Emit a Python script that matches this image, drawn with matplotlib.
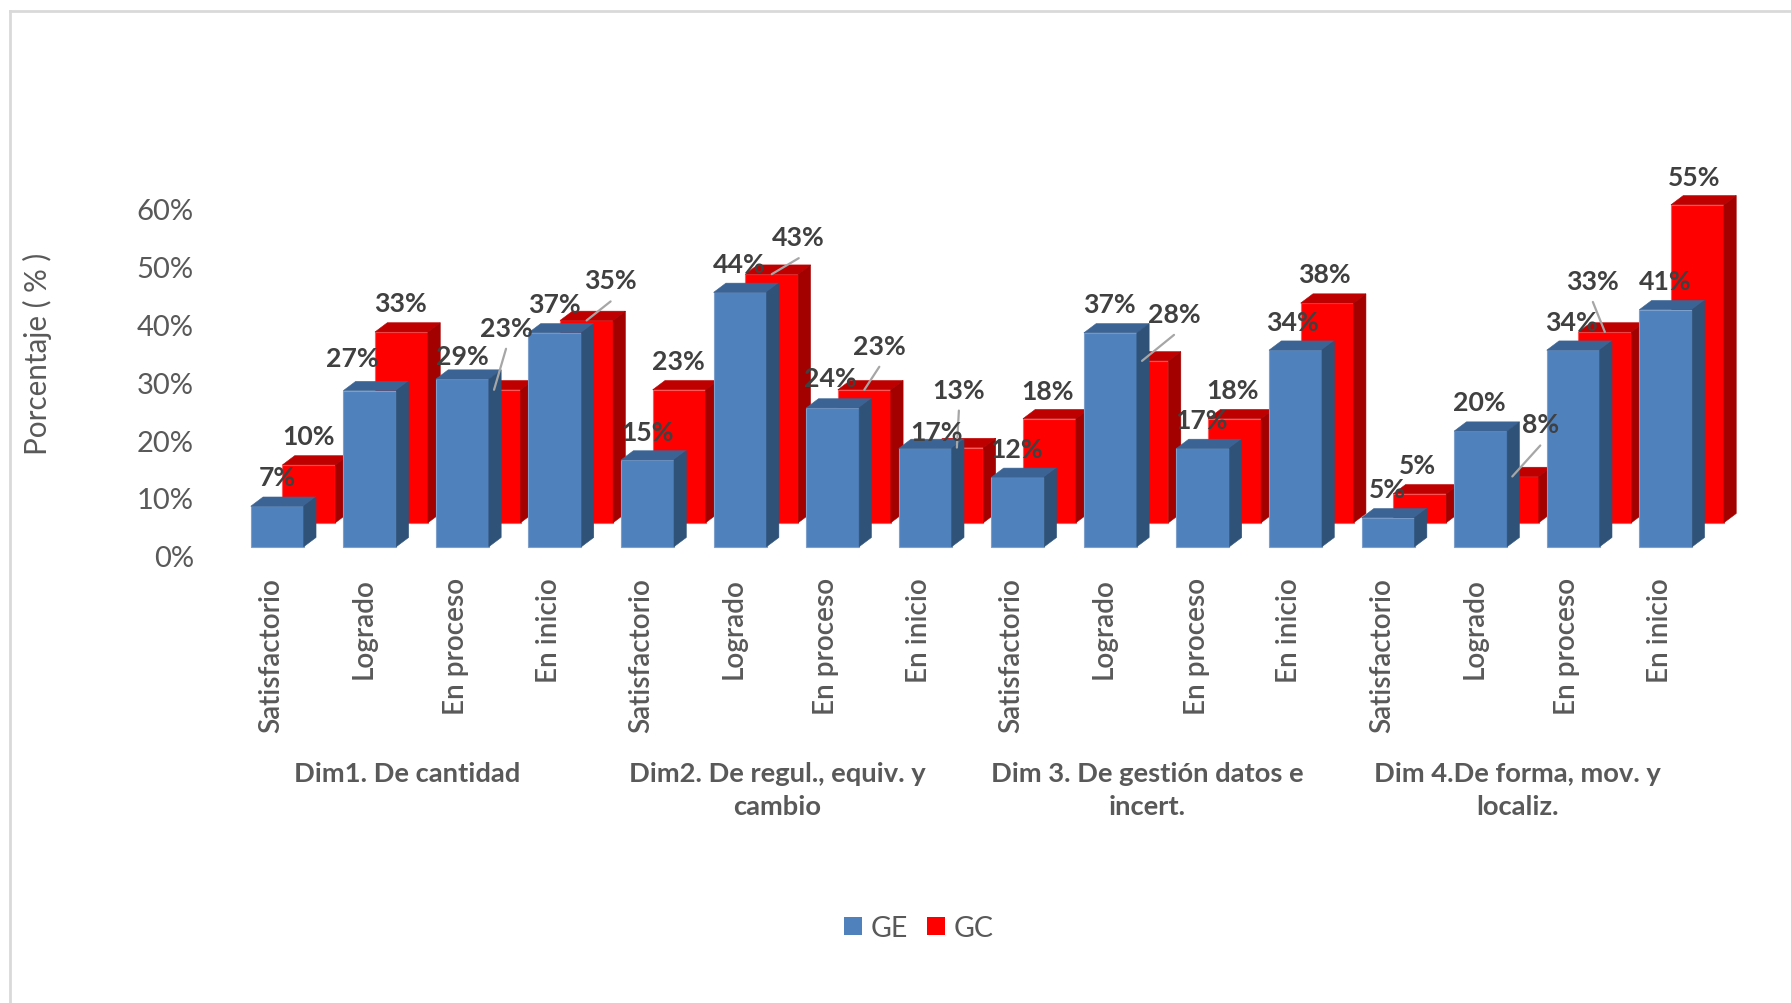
import matplotlib
matplotlib.use("Agg")
import matplotlib.pyplot as plt
from matplotlib.lines import Line2D
from matplotlib.patches import Patch, Polygon
from matplotlib.transforms import ScaledTranslation

plt.rcParams["font.family"] = ["Lato", "DejaVu Sans"]

# Achievement levels repeated for each of the four dimensions
levels = ["Satisfactorio", "Logrado", "En proceso", "En inicio"]
categories = levels * 4
dimensions = [
    "Dim1. De cantidad",
    "Dim2. De regul., equiv. y\ncambio",
    "Dim 3. De gestión datos e\nincert.",
    "Dim 4.De forma, mov. y\nlocaliz.",
]
ge_values = [7, 27, 29, 37, 15, 44, 24, 17, 12, 37, 17, 34, 5, 20, 34, 41]
gc_values = [10, 33, 23, 35, 23, 43, 23, 13, 18, 28, 18, 38, 5, 8, 33, 55]
y_ticks = [0, 10, 20, 30, 40, 50, 60]

# Label offsets from the top-centre of each bar's front face, in pixels (right, up)
ge_label_offsets = [(0, 29), (-17, 33), (0, 23), (-1, 29), (0, 28), (-1, 28), (-2, 30), (11, 16),
                    (-1, 28), (-1, 29), (-1, 28), (-3, 28), (-1, 29), (-1, 29), (-2, 28), (-1, 29)]
gc_label_offsets = [(0, 29), (-1, 29), (12, 62), (24, 40), (-1, 29), (27, 37), (15, 44), (2, 58),
                    (-2, 28), (32, 47), (-2, 29), (-3, 29), (-2, 29), (28, 52), (-12, 51), (-3, 28)]
gc_with_leader = [2, 3, 5, 6, 7, 9, 13, 14]

W, H = 1791, 1004
DPI = 100
fig = plt.figure(figsize=(W / DPI, H / DPI), dpi=DPI, facecolor="white")

# Plot box: category step 92.57 px, 5.78 px per percentage point
left, right, bottom, top = 221.7, 1702.8, 547.7, 200.9
ax = fig.add_axes([left / W, 1 - bottom / H, (right - left) / W, (bottom - top) / H])
ax.set_xlim(-0.5, 15.5)
ax.set_ylim(0, 60)

BAR_W = 0.572
GE_SHIFT = 0.10          # front row, relative to the category tick
GC_SHIFT = 0.442         # back row
GC_FLOOR = 4.15          # back row's floor, lifted by perspective
DEPTH_X = 0.133
DEPTH_Y = 1.6
LABEL_SIZE = 19.2


def draw_series(values, shift, floor, front, top_face, side, edge, z):
    xs = [i + shift for i in range(len(values))]
    ax.bar(xs, values, width=BAR_W, bottom=floor, color=front, edgecolor=edge,
           linewidth=0.8, zorder=z, clip_on=False)
    for x, v in zip(xs, values):
        x0, x1 = x - BAR_W / 2, x + BAR_W / 2
        y0, y1 = floor, floor + v
        ax.add_patch(Polygon(
            [(x0, y1), (x1, y1), (x1 + DEPTH_X, y1 + DEPTH_Y), (x0 + DEPTH_X, y1 + DEPTH_Y)],
            closed=True, facecolor=top_face, edgecolor=top_face, linewidth=0.4, zorder=z, clip_on=False))
        ax.add_patch(Polygon(
            [(x1, y0), (x1 + DEPTH_X, y0 + DEPTH_Y), (x1 + DEPTH_X, y1 + DEPTH_Y), (x1, y1)],
            closed=True, facecolor=side, edgecolor=side, linewidth=0.4, zorder=z, clip_on=False))


draw_series(gc_values, GC_SHIFT, GC_FLOOR, "#FF0000", "#BE0000", "#A30000", "#FF5A5A", 2)
draw_series(ge_values, GE_SHIFT, 0, "#4F81BD", "#3B6494", "#2F5279", "#7C9FCC", 3)


def draw_labels(values, shift, floor, offsets, color="#404040"):
    for i, (v, (dx, dy)) in enumerate(zip(values, offsets)):
        ax.annotate(f"{v}%", xy=(i + shift, floor + v), xytext=(dx, dy),
                    textcoords="offset pixels", ha="center", va="center",
                    fontsize=LABEL_SIZE, fontweight="bold", color=color, zorder=6,
                    annotation_clip=False)


# Leader lines run from just under the moved label down to its bar
for i in gc_with_leader:
    dx, dy = gc_label_offsets[i]
    ax.annotate("", xy=(i + GC_SHIFT, GC_FLOOR + gc_values[i]), xytext=(dx, dy - 21),
                textcoords="offset pixels", annotation_clip=False, zorder=5,
                arrowprops=dict(arrowstyle="-", color="#A6A6A6", lw=1.6,
                                shrinkA=0, shrinkB=0))

draw_labels(gc_values, GC_SHIFT, GC_FLOOR, gc_label_offsets)
draw_labels(ge_values, GE_SHIFT, 0, ge_label_offsets)

# Axes
for spine in ax.spines.values():
    spine.set_visible(False)
ax.patch.set_visible(False)
ax.set_xticks(range(len(categories)))
ax.set_xticklabels(categories, rotation=90, ha="center", va="top", fontsize=20.1,
                   color="#595959", fontweight="semibold")
ax.tick_params(axis="x", length=0, pad=22)
x_nudge = ScaledTranslation(3 / DPI, 0, fig.dpi_scale_trans)
for lab in ax.get_xticklabels():
    lab.set_transform(lab.get_transform() + x_nudge)
ax.set_yticks(y_ticks)
ax.set_yticklabels([f"{t}%" for t in y_ticks], fontsize=21, color="#595959")
ax.tick_params(axis="y", length=0, pad=20)
y_drop = ScaledTranslation(0, -11.5 / DPI, fig.dpi_scale_trans)
for lab in ax.get_yticklabels():
    lab.set_verticalalignment("center")
    lab.set_transform(lab.get_transform() + y_drop)

# Dimension names under the level labels
for g, name in enumerate(dimensions):
    ax.annotate(name, xy=(1.5 + 4 * g, 0), xycoords=("data", "axes fraction"),
                xytext=(0, -(762 - bottom)), textcoords="offset pixels",
                ha="center", va="top", fontsize=19.7, fontweight="bold",
                color="#595959", linespacing=1.47, annotation_clip=False)

fig.text(37.7 / W, 1 - 354 / H, "Porcentaje ( % )", rotation=90, ha="center", va="center",
         fontsize=21.3, color="#595959")

fig.legend(handles=[Patch(facecolor="#4F81BD", label="GE"), Patch(facecolor="#FF0000", label="GC")],
           loc="center", bbox_to_anchor=(919 / W, 1 - 929 / H), ncol=2, frameon=False,
           fontsize=20.5, labelcolor="#595959", handlelength=0.63, handleheight=0.63,
           handletextpad=0.3, columnspacing=0.68)

# Pale outline of the chart area, open at the right and bottom
fig.add_artist(Line2D([10 / W, 1], [1 - 12 / H, 1 - 12 / H], color="#D9D9D9", lw=2))
fig.add_artist(Line2D([10 / W, 10 / W], [1 - 12 / H, 0], color="#D9D9D9", lw=2))

fig.savefig("out.png", dpi=DPI, facecolor="white")
